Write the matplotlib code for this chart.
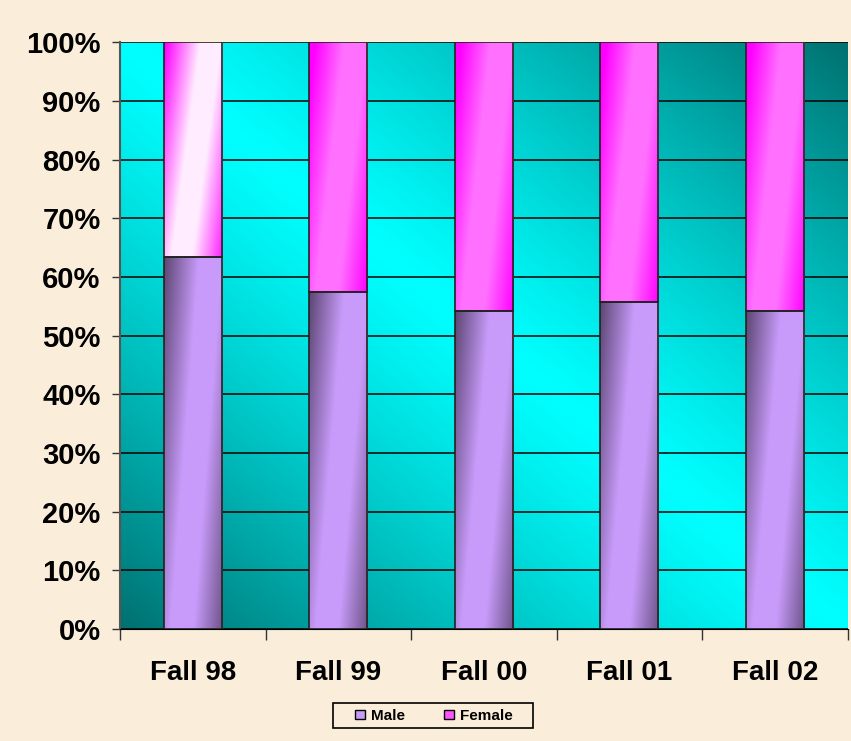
import numpy as np
import matplotlib
matplotlib.use("Agg")
import matplotlib.pyplot as plt
from matplotlib.patches import Patch, Rectangle
from matplotlib.ticker import PercentFormatter

# =========================
# DATA
# =========================
terms = ["Fall 98", "Fall 99", "Fall 00", "Fall 01", "Fall 02"]
male_pct = [63.4, 57.4, 54.2, 55.7, 54.2]
female_pct = [100 - m for m in male_pct]

plt.rcParams['font.family'] = ['Liberation Sans', 'DejaVu Sans']
plt.rcParams['font.weight'] = 'bold'

PAPER = '#faeedb'
CYAN = np.array([0, 255, 255]) / 255
TEAL = np.array([0, 112, 112]) / 255
W, H = 851, 741


def bar_fill(ax, bar, light, dark, soft=0.15, spread=0.6):
    # tilted cylinder-like shading: the bright band drifts left->right going up
    u, v = np.meshgrid(np.linspace(0, 1, 60), np.linspace(1, 0, 200))
    c = 0.3 + 0.5 * v
    mix = np.clip((np.abs(u - c) - soft) / spread, 0, 1)
    light = np.array(light) / 255
    dark = np.array(dark) / 255
    img = light * (1 - mix[..., None]) + dark * mix[..., None]
    x0, y0 = bar.get_x(), bar.get_y()
    ax.imshow(img, extent=(x0, x0 + bar.get_width(), y0, y0 + bar.get_height()),
              aspect='auto', zorder=2.5, interpolation='bilinear')


fig = plt.figure(figsize=(W / 100, H / 100), dpi=100, facecolor=PAPER)
ax = fig.add_axes([0.141, 0.151, 0.855, 0.792])

# plot-area background: cyan along the diagonal, dark teal in two corners
xx, yy = np.meshgrid(np.linspace(0, 1, 300), np.linspace(1, 0, 300))
t = np.clip(np.abs(xx + yy - 1), 0, 1) ** 1.2
bg = CYAN * (1 - t[..., None]) + TEAL * t[..., None]
ax.imshow(bg, extent=(0, 1, 0, 1), transform=ax.transAxes, aspect='auto', zorder=0)

x = np.arange(len(terms))
width = 0.4
male_bars = ax.bar(x, male_pct, width, color='#c89bfa', zorder=2)
female_bars = ax.bar(x, female_pct, width, bottom=male_pct, color='#ff66ff', zorder=2)

for b in male_bars:
    bar_fill(ax, b, (200, 155, 250), (92, 70, 115), soft=0.2, spread=0.6)
for i, b in enumerate(female_bars):
    if i == 0:
        bar_fill(ax, b, (255, 236, 255), (255, 0, 255), soft=0.18, spread=0.6)
    else:
        bar_fill(ax, b, (255, 112, 255), (255, 0, 255), soft=0.2, spread=0.5)

# outlines on top of the gradients
for b in list(male_bars) + list(female_bars):
    ax.add_patch(Rectangle((b.get_x(), b.get_y()), b.get_width(), b.get_height(),
                           fill=False, edgecolor='#222222', linewidth=1.2, zorder=3))

ax.set_xlim(-0.5, len(terms) - 0.5)
ax.set_ylim(0, 100)
ax.set_yticks(np.arange(0, 101, 10))
ax.yaxis.set_major_formatter(PercentFormatter(decimals=0))
ax.yaxis.grid(True, color='black', linewidth=1.1, zorder=1)
ax.set_axisbelow(True)

ax.set_xticks(x)
ax.set_xticklabels(terms)
ax.set_xticks(np.arange(-0.5, len(terms)), minor=True)
ax.tick_params(axis='x', which='major', length=0, pad=22, labelsize=20)
ax.tick_params(axis='x', which='minor', length=8, color='#333333', width=1)
ax.tick_params(axis='y', length=6, color='#333333', width=1, pad=8, labelsize=21)

for s in ['top', 'right']:
    ax.spines[s].set_visible(False)
ax.spines['left'].set_color('#555555')
ax.spines['left'].set_linewidth(1.5)
ax.spines['bottom'].set_color('black')

# legend box drawn by hand so its padding matches the original
fig.patches.append(Rectangle((333 / W, 1 - 728 / H), 200 / W, 25 / H, transform=fig.transFigure,
                             facecolor=PAPER, edgecolor='black', linewidth=1.2, zorder=1))
handles = [Patch(facecolor='#c89bfa', edgecolor='black', label='Male'),
           Patch(facecolor='#ff55ff', edgecolor='black', label='Female')]
leg = fig.legend(handles=handles, loc='center', bbox_to_anchor=(434 / W, 1 - 716 / H), ncol=2,
                 frameon=False, prop={'size': 11, 'weight': 'bold'},
                 handlelength=0.6, handleheight=0.6, handletextpad=0.4,
                 columnspacing=2.6, borderpad=0.2)
leg.set_zorder(2)

fig.savefig("out.png", dpi=100, facecolor=PAPER)
